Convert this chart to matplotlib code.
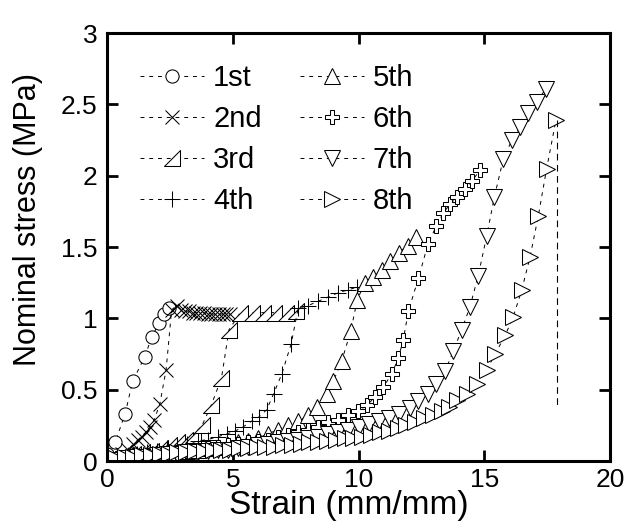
import numpy as np
import matplotlib
matplotlib.use("Agg")
import matplotlib.pyplot as plt
from matplotlib.path import Path

plt.rcParams['font.family'] = ['Liberation Sans', 'DejaVu Sans']

# cycle 1 .. 8 reloading curves (strain, nominal stress MPa)
x1 = [0.0, 0.32, 0.72, 1.02, 1.5, 1.78, 2.08, 2.28, 2.46]
y1 = [0.05, 0.13, 0.33, 0.56, 0.73, 0.87, 0.97, 1.03, 1.07]

x2 = [0.0, 0.3, 0.6, 0.85, 1.05, 1.25, 1.4, 1.55, 1.7, 1.88, 2.1, 2.35, 2.57, 2.77,
      2.95, 3.1, 3.25, 3.4, 3.55, 3.7, 3.85, 4.0, 4.15, 4.3, 4.45, 4.6, 4.75, 4.9]
y2 = [0.01, 0.03, 0.05, 0.08, 0.12, 0.15, 0.17, 0.2, 0.24, 0.29, 0.40, 0.64, 1.06, 1.09,
      1.06, 1.05, 1.05, 1.04, 1.04, 1.04, 1.04, 1.03, 1.03, 1.03, 1.03, 1.03, 1.03, 1.03]

x3 = [0.0, 0.35, 0.7, 1.05, 1.4, 1.75, 2.1, 2.45, 2.8, 3.1, 3.43, 3.78, 4.14, 4.55, 4.85,
      5.3, 5.75, 6.2, 6.65, 7.1, 7.5]
y3 = [0.01, 0.02, 0.04, 0.05, 0.06, 0.07, 0.09, 0.11, 0.13, 0.15, 0.18, 0.25, 0.39, 0.58, 0.92,
      1.04, 1.04, 1.04, 1.04, 1.04, 1.05]

x4 = [0.0, 0.4, 0.8, 1.2, 1.6, 2.0, 2.4, 2.8, 3.2, 3.6, 4.0, 4.4, 4.76, 5.09, 5.42, 5.75,
      6.05, 6.35, 6.62, 6.95, 7.32, 7.6, 8.0, 8.4, 8.8, 9.2, 9.6, 9.95]
y4 = [0.01, 0.02, 0.03, 0.05, 0.06, 0.07, 0.09, 0.1, 0.12, 0.14, 0.15, 0.17, 0.19, 0.21, 0.24, 0.28,
      0.31, 0.36, 0.47, 0.61, 0.82, 1.07, 1.09, 1.12, 1.15, 1.18, 1.2, 1.22]

x5 = [0.0, 0.4, 0.8, 1.2, 1.6, 2.0, 2.4, 2.8, 3.2, 3.6, 4.0, 4.4, 4.8, 5.2, 5.6, 6.0, 6.4,
      6.8, 7.2, 7.6, 8.0, 8.36, 8.73, 9.0, 9.33, 9.69, 9.95, 10.25, 10.59, 10.92, 11.25,
      11.6, 11.95, 12.3]
y5 = [0.01, 0.02, 0.03, 0.03, 0.04, 0.05, 0.06, 0.06, 0.07, 0.08, 0.09, 0.1, 0.11, 0.13, 0.14,
      0.16, 0.19, 0.22, 0.25, 0.28, 0.32, 0.38, 0.47, 0.56, 0.70, 0.91, 1.13, 1.25, 1.29, 1.34,
      1.40, 1.46, 1.51, 1.57]

x6 = [0.0, 0.4, 0.8, 1.2, 1.6, 2.0, 2.4, 2.8, 3.2, 3.6, 4.0, 4.4, 4.8, 5.2, 5.6, 6.0, 6.4,
      6.8, 7.2, 7.6, 8.0, 8.4, 8.8, 9.2, 9.6, 9.99, 10.33, 10.66, 10.99, 11.32, 11.58, 11.78,
      11.98, 12.38, 12.76, 13.1, 13.37, 13.64, 13.9, 14.23, 14.5, 14.83]
y6 = [0.01, 0.02, 0.02, 0.03, 0.04, 0.05, 0.05, 0.06, 0.07, 0.08, 0.09, 0.1, 0.11, 0.12, 0.13,
      0.14, 0.15, 0.17, 0.18, 0.2, 0.22, 0.24, 0.27, 0.29, 0.32, 0.35, 0.39, 0.45, 0.52, 0.61,
      0.72, 0.85, 1.05, 1.28, 1.52, 1.65, 1.74, 1.8, 1.85, 1.91, 1.96, 2.04]

x7 = [0.0, 0.4, 0.8, 1.2, 1.6, 2.0, 2.4, 2.8, 3.2, 3.6, 4.0, 4.4, 4.8, 5.2, 5.6, 6.0, 6.4,
      6.8, 7.2, 7.6, 8.0, 8.4, 8.8, 9.2, 9.6, 10.0, 10.4, 10.8, 11.2, 11.6, 12.05, 12.38,
      12.77, 13.1, 13.44, 13.77, 14.1, 14.43, 14.76, 15.1, 15.4, 15.76, 16.1, 16.42, 16.75,
      17.08, 17.46]
y7 = [0.01, 0.01, 0.02, 0.03, 0.03, 0.04, 0.05, 0.05, 0.06, 0.06, 0.07, 0.08, 0.08, 0.09, 0.1,
      0.11, 0.12, 0.13, 0.14, 0.15, 0.16, 0.17, 0.19, 0.2, 0.22, 0.24, 0.26, 0.28, 0.3, 0.33,
      0.37, 0.42, 0.47, 0.54, 0.63, 0.77, 0.92, 1.08, 1.30, 1.58, 1.85, 2.12, 2.25, 2.34, 2.44,
      2.52, 2.61]

x8 = [0.0, 0.35, 0.7, 1.05, 1.4, 1.75, 2.1, 2.45, 2.8, 3.15, 3.5, 3.85, 4.2, 4.55, 4.9, 5.25,
      5.6, 5.95, 6.3, 6.65, 7.0, 7.35, 7.7, 8.05, 8.4, 8.75, 9.1, 9.45, 9.8, 10.15, 10.5, 10.85,
      11.2, 11.55, 11.9, 12.25, 12.6, 12.95, 13.3, 13.6, 13.9, 14.3, 14.7, 15.1, 15.43, 15.83,
      16.15, 16.49, 16.82, 17.15, 17.48, 17.85]
y8 = [0.02, 0.02, 0.03, 0.03, 0.04, 0.04, 0.05, 0.05, 0.06, 0.06, 0.07, 0.07, 0.08, 0.08, 0.08,
      0.09, 0.09, 0.1, 0.1, 0.1, 0.11, 0.11, 0.12, 0.13, 0.13, 0.14, 0.15, 0.16, 0.16, 0.17, 0.18,
      0.2, 0.21, 0.23, 0.25, 0.27, 0.3, 0.32, 0.35, 0.38, 0.43, 0.47, 0.54, 0.64, 0.75, 0.88,
      1.01, 1.20, 1.43, 1.72, 2.05, 2.39]
# unloading drop at the end of the 8th cycle
x8_drop = [17.88, 17.88]
y8_drop = [2.39, 0.37]

labels = ["1st", "2nd", "3rd", "4th", "5th", "6th", "7th", "8th"]
xticks = [0, 5, 10, 15, 20]
yticks = [0, 0.5, 1, 1.5, 2, 2.5, 3]
yticklabels = ["0", "0.5", "1", "1.5", "2", "2.5", "3"]

# right triangle marker (vertical right side)
rtri = Path([(-1, -1), (1, -1), (1, 1), (-1, -1)],
            [Path.MOVETO, Path.LINETO, Path.LINETO, Path.CLOSEPOLY])

series = [(x1, y1), (x2, y2), (x3, y3), (x4, y4), (x5, y5), (x6, y6), (x7, y7), (x8, y8)]
markers = ['o', 'x', rtri, '+', '^', 'P', 'v', '>']
msizes = [9.5, 10, 11, 12, 11, 10, 11.5, 11.5]

fig = plt.figure(figsize=(6.28, 5.31), dpi=100)
ax = fig.add_axes([0.1704, 0.1318, 0.8010, 0.8060])

for (xs, ys), m, ms, lab in zip(series, markers, msizes, labels):
    ax.plot(xs, ys, linestyle=(0, (4, 5)), color='black', linewidth=0.7,
            marker=m, markersize=ms, markerfacecolor='white',
            markeredgecolor='black', markeredgewidth=0.75, label=lab)

ax.plot(x8_drop, y8_drop, linestyle=(0, (6, 4)), color='black', linewidth=0.8)

ax.set_xlim(0, 20)
ax.set_ylim(0, 3)
ax.set_xticks(xticks)
ax.set_yticks(yticks)
ax.set_yticklabels(yticklabels)
ax.tick_params(direction='in', length=8, width=2, top=True, right=True,
               labelsize=19)
ax.tick_params(axis='x', pad=5)
ax.tick_params(axis='y', pad=7)
for sp in ax.spines.values():
    sp.set_linewidth(2.2)

ax.set_xlabel("Strain (mm/mm)", fontsize=24)
ax.set_ylabel("Nominal stress (MPa)", fontsize=22)
ax.xaxis.set_label_coords(0.481, -0.068)
ax.yaxis.set_label_coords(-0.128, 0.565)

ax.legend(ncol=2, loc='upper left', bbox_to_anchor=(0.066, 0.928), frameon=False,
          fontsize=21, handlelength=2.2, handletextpad=0.3, columnspacing=1.3,
          labelspacing=0.45, borderpad=0, borderaxespad=0)

fig.savefig("out.png", dpi=100)
